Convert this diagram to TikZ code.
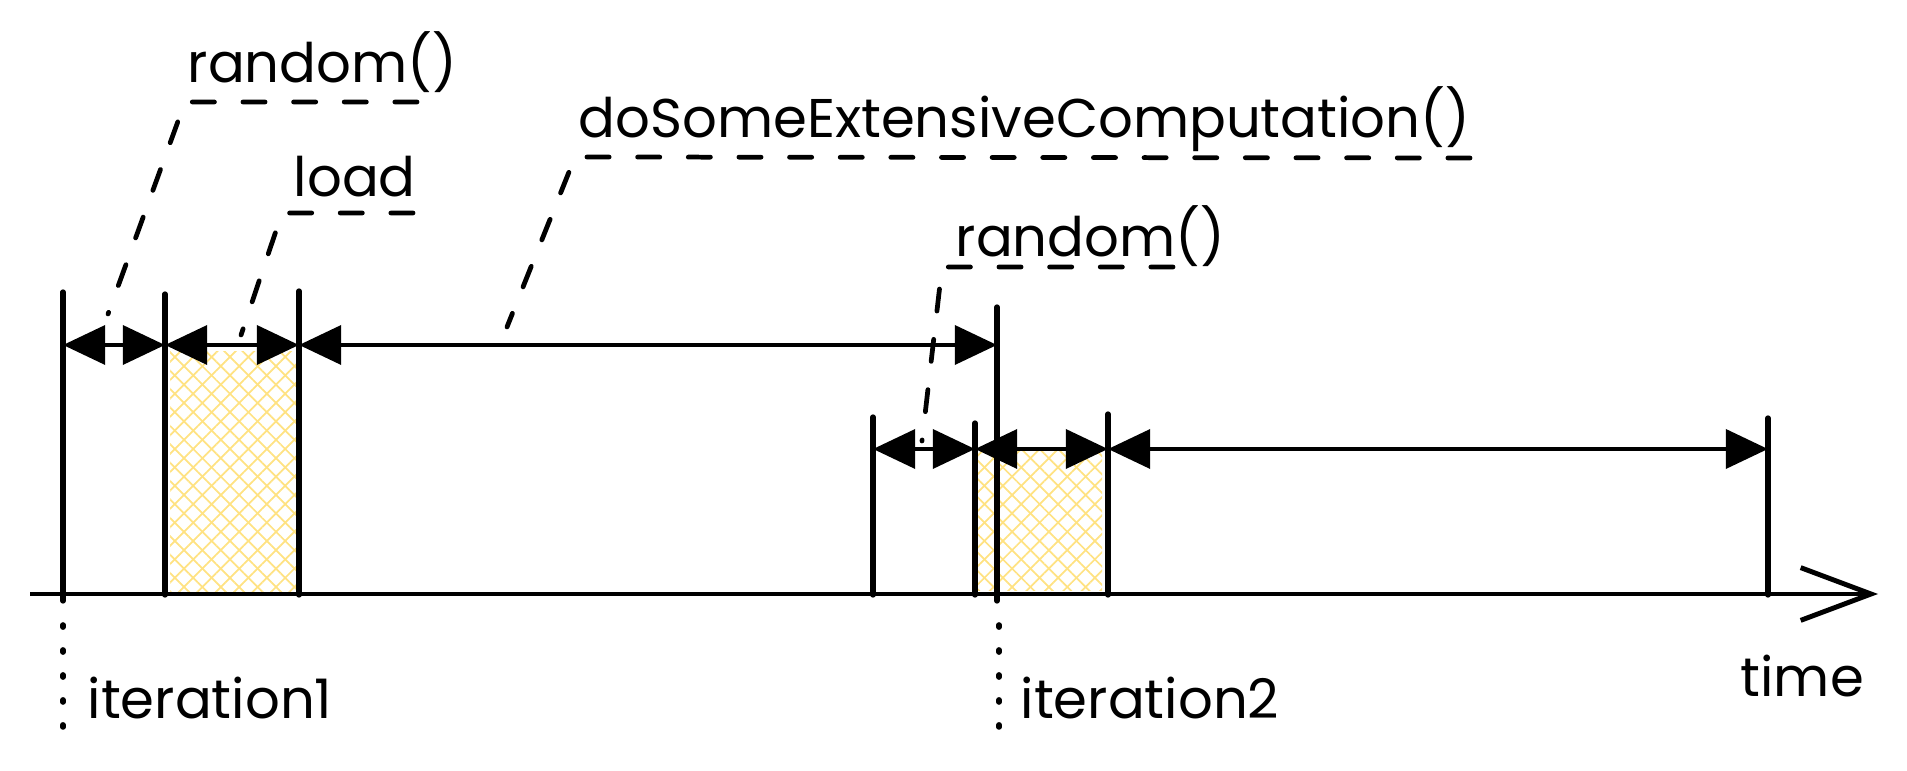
\documentclass[tikz,border=0pt]{standalone}
\usepackage{fontspec}
\setmainfont{Poppins}
\usepackage{tikz}
\usetikzlibrary{arrows.meta,patterns.meta}
\definecolor{hatchyellow}{RGB}{255,226,130}
\newcommand{\lblfont}{\fontsize{15.5}{18}\selectfont}

\begin{document}
\begin{tikzpicture}[x=0.01cm,y=-0.01cm,
    tick/.style={line width=1.5pt,line cap=round},
    dim/.style={line width=1.4pt,{Triangle[length=12pt,width=11pt]}-{Triangle[length=12pt,width=11pt]}},
    leader/.style={line width=1.35pt,line cap=round,dash pattern=on 6.3pt off 8.1pt},
    dots/.style={line width=1.6pt,line cap=round,dash pattern=on 0.6pt off 6.5pt},
    lbl/.style={anchor=base west,inner sep=0pt,font=\lblfont}]
  \useasboundingbox (0,0) rectangle (1907,771);
  \fill[pattern={Lines[angle=45,distance=3.7pt,line width=0.5pt]},pattern color=hatchyellow] (170,352) rectangle (297,593);
  \fill[pattern={Lines[angle=-45,distance=3.7pt,line width=0.5pt]},pattern color=hatchyellow] (170,352) rectangle (297,593);
  \fill[pattern={Lines[angle=45,distance=3.7pt,line width=0.5pt]},pattern color=hatchyellow] (978,450) rectangle (1102,591);
  \fill[pattern={Lines[angle=-45,distance=3.7pt,line width=0.5pt]},pattern color=hatchyellow] (978,450) rectangle (1102,591);
  \coordinate (ax0) at (30,594);
  \coordinate (ax1) at (1878,594);
  \draw[line width=1.4pt,-{Straight Barb[length=20pt,width=15pt]}] (ax0) -- (ax1);
  \draw[tick] (63,292) -- (63,601);
  \draw[tick] (165,294) -- (165,595);
  \draw[tick] (299,291) -- (299,595);
  \draw[tick] (997,307) -- (997,601);
  \draw[tick] (873,417) -- (873,595);
  \draw[tick] (975,423) -- (975,595);
  \draw[tick] (1108,414) -- (1108,595);
  \draw[tick] (1768,418) -- (1768,595);
  \draw[dots] (63,625) -- (63,728);
  \draw[dots] (999,625) -- (999,728);
  \coordinate (a0) at (63,345);
  \coordinate (a1) at (165,345);
  \coordinate (a2) at (299,345);
  \coordinate (a3) at (997,345);
  \coordinate (b0) at (873,449);
  \coordinate (b1) at (975,449);
  \coordinate (b2) at (1108,449);
  \coordinate (b3) at (1768,449);
  \draw[dim] (a0) -- (a1);
  \draw[dim] (a1) -- (a2);
  \draw[dim] (a2) -- (a3);
  \draw[dim] (b0) -- (b1);
  \draw[dim] (b1) -- (b2);
  \draw[dim] (b2) -- (b3);
  \node[lbl] (rnd1) at (187,83) {random()};
  \node[lbl] (load) at (293,197) {load};
  \node[lbl] (comp) at (578,138) {doSomeExtensiveComputation()};
  \node[lbl] (rnd2) at (955,257) {random()};
  \node[lbl] (it1) at (87,719) {iteration1};
  \node[lbl] (it2) at (1020,719) {iteration2};
  \node[lbl] (time) at (1740,697) {time};
  \coordinate (rnd1p) at (108,314);
  \coordinate (loadp) at (241,335);
  \coordinate (compp) at (507,327);
  \coordinate (rnd2p) at (922,441);
  \draw[leader] (417,102) -- (185,102) -- (rnd1p);
  \draw[leader] (413,213) -- (282,213) -- (loadp);
  \draw[leader] (1470,158) -- (575,157) -- (compp);
  \draw[leader] (1173,267) -- (942,267) -- (rnd2p);
\end{tikzpicture}
\end{document}
